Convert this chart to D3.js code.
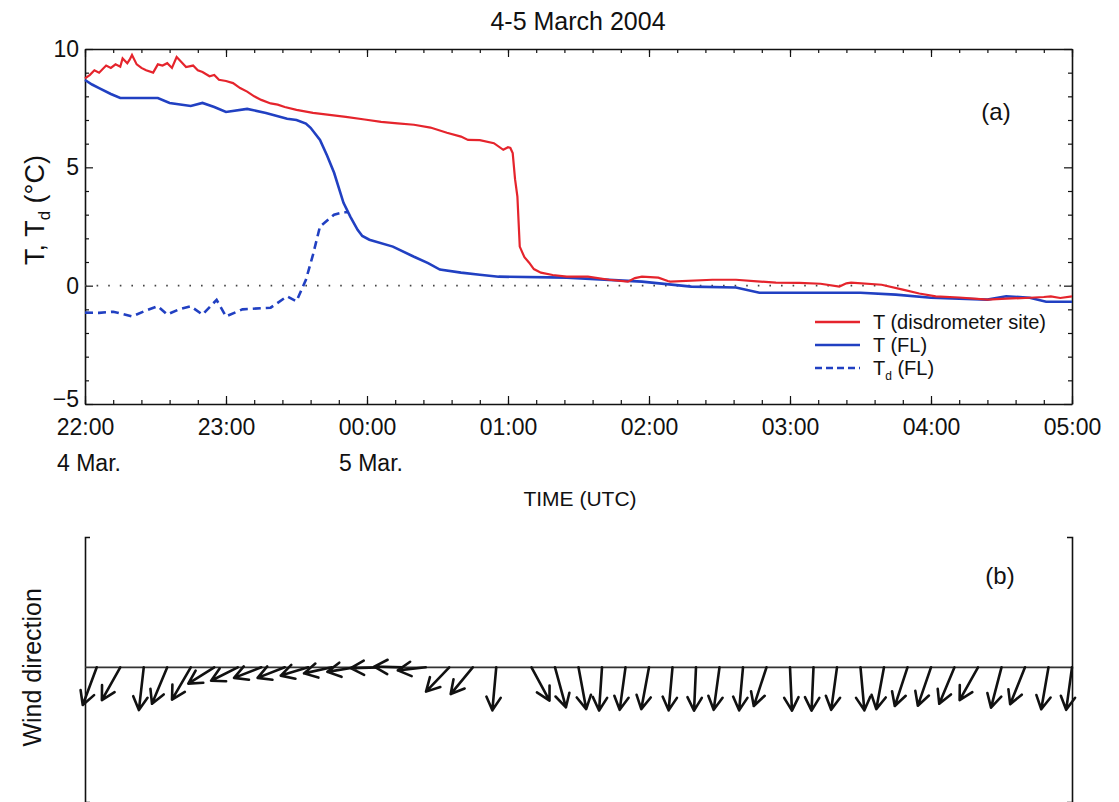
<!DOCTYPE html>
<html>
<head>
<meta charset="utf-8">
<script src="https://cdn.jsdelivr.net/npm/d3@7"></script>
<style>
  body { margin: 0; background: #fff; }
  svg { display: block; font-family: "Liberation Sans", Arial, Helvetica, sans-serif; }
</style>
</head>
<body>
<div id="chart"></div>
<script>
// all times are minutes after 22:00 UTC, 4 March 2004
const redMinutes = [0,2,4,6,9,11,13,15,16,18,19,20,22,24,26,29,31,33,35,37,39,41,43,46,48,50,53,55,57,60,63,66,69,72,75,79,82,85,90,97,104,111,119,126,133,140,147,154,160,163,168,174,178,180,181,182,183,184,185,187,189,191,194,199,205,214,223,231,234,237,244,248,249,267,277,286,294,304,313,321,324,326,339,348,355,362,372,384,392,402,408,411,415,420];
const redTemp = [8.76,8.9,9.1,9.0,9.3,9.2,9.35,9.25,9.6,9.4,9.55,9.75,9.35,9.2,9.1,9.0,9.35,9.3,9.4,9.2,9.66,9.45,9.24,9.3,9.1,9.03,8.85,8.9,8.7,8.65,8.56,8.35,8.2,8.0,7.85,7.7,7.65,7.55,7.43,7.3,7.22,7.13,7.02,6.92,6.86,6.8,6.68,6.46,6.3,6.16,6.15,6.02,5.74,5.85,5.82,5.6,4.5,3.76,1.65,1.2,0.97,0.7,0.55,0.45,0.38,0.38,0.25,0.17,0.32,0.38,0.34,0.2,0.17,0.25,0.25,0.18,0.13,0.12,0.08,-0.04,0.1,0.13,0.04,-0.17,-0.33,-0.45,-0.5,-0.59,-0.55,-0.51,-0.48,-0.45,-0.52,-0.45];

const blueMinutes = [0,3,6,11,15,23,31,36,45,50,55,60,69,77,86,90,94,96,100,103,106,110,113,116,118,121,131,140,146,151,160,168,176,205,237,258,277,287,330,345,360,384,392,402,409,420];
const blueTemp = [8.69,8.5,8.35,8.1,7.93,7.93,7.93,7.72,7.59,7.72,7.55,7.34,7.47,7.3,7.05,7.0,6.85,6.67,6.16,5.5,4.77,3.5,2.9,2.36,2.1,1.94,1.65,1.22,0.95,0.68,0.55,0.46,0.38,0.34,0.17,-0.04,-0.08,-0.3,-0.3,-0.38,-0.51,-0.59,-0.45,-0.51,-0.68,-0.68];

const dewMinutes = [0,6,12,16,20,26,31,35,40,45,50,56,60,67,79,86,90,94,97,100,106,110,112];
const dewTemp = [-1.14,-1.15,-1.1,-1.2,-1.3,-1.05,-0.87,-1.22,-1.0,-0.87,-1.22,-0.6,-1.3,-1.0,-0.93,-0.45,-0.66,0.25,1.3,2.5,3.0,3.1,3.1];

// wind direction (degrees the wind comes from)
const windMinutes = [5,15,25,35,45,55,65,75,85,95,105,115,125,135,145,155,165,175,190,200,210,220,230,240,250,260,270,280,290,300,310,320,330,340,350,360,370,380,390,400,410,420];
const windDirection = [30,41,10,33,42,68,72,76,76,79,82,84,89,91,86,56,52,8,320,337,344,6,12,16,8,4,12,8,27,356,4,12,352,16,27,28,33,41,22,32,15,12];

const yMajorTicks = [-5, 0, 5, 10];
const dateLabelMinutes = [0, 120];
const dateLabelText = ["4 Mar.", "5 Mar."];

const W = 1119, H = 802;
const red = "#e5242c", blue = "#2140c2";

const start = new Date(2004, 2, 4, 22, 0);
const toDate = m => new Date(start.getTime() + m * 60000);

const svg = d3.select("#chart").append("svg")
    .attr("width", W)
    .attr("height", H);

// ---------- panel (a) ----------
const x = d3.scaleTime()
    .domain([start, toDate(420)])
    .range([85, 1072]);

const y = d3.scaleLinear()
    .domain([-5, 10])
    .range([404, 49]);

const fmt = d3.timeFormat("%H:%M");
const minorX = d3.timeMinute.every(12);
const yMinor = d3.range(-5, 11).filter(v => !yMajorTicks.includes(v));

function styleAxis(g, fontSize) {
    g.select(".domain").attr("stroke", "#111").attr("stroke-width", 1.6);
    g.selectAll(".tick line").attr("stroke", "#111").attr("stroke-width", 1.2);
    g.selectAll(".tick text").attr("fill", "#111").attr("font-size", fontSize);
    g.attr("font-family", null);
}

// bottom
svg.append("g")
    .attr("transform", `translate(0,${y(-5)})`)
    .call(d3.axisBottom(x).ticks(d3.timeHour.every(1)).tickFormat(fmt)
        .tickSize(-8).tickSizeOuter(0).tickPadding(15))
    .call(g => styleAxis(g, 23));
svg.append("g")
    .attr("transform", `translate(0,${y(-5)})`)
    .call(d3.axisBottom(x).ticks(minorX).tickFormat("").tickSize(-4).tickSizeOuter(0))
    .call(g => styleAxis(g, 0))
    .call(g => g.select(".domain").remove());

// top
svg.append("g")
    .attr("transform", `translate(0,${y(10)})`)
    .call(d3.axisTop(x).ticks(d3.timeHour.every(1)).tickFormat("").tickSize(-8).tickSizeOuter(0))
    .call(g => styleAxis(g, 0));
svg.append("g")
    .attr("transform", `translate(0,${y(10)})`)
    .call(d3.axisTop(x).ticks(minorX).tickFormat("").tickSize(-4).tickSizeOuter(0))
    .call(g => styleAxis(g, 0))
    .call(g => g.select(".domain").remove());

// left
svg.append("g")
    .attr("transform", `translate(${x.range()[0]},0)`)
    .call(d3.axisLeft(y).tickValues(yMajorTicks).tickSize(-8).tickSizeOuter(0).tickPadding(6))
    .call(g => styleAxis(g, 23))
    .call(g => g.selectAll(".tick text").filter(d => d === -5).attr("dy", "0.1em"));
svg.append("g")
    .attr("transform", `translate(${x.range()[0]},0)`)
    .call(d3.axisLeft(y).tickValues(yMinor).tickFormat("").tickSize(-4).tickSizeOuter(0))
    .call(g => styleAxis(g, 0))
    .call(g => g.select(".domain").remove());

// right
svg.append("g")
    .attr("transform", `translate(${x.range()[1]},0)`)
    .call(d3.axisRight(y).tickValues(yMajorTicks).tickFormat("").tickSize(-8).tickSizeOuter(0))
    .call(g => styleAxis(g, 0));
svg.append("g")
    .attr("transform", `translate(${x.range()[1]},0)`)
    .call(d3.axisRight(y).tickValues(yMinor).tickFormat("").tickSize(-4).tickSizeOuter(0))
    .call(g => styleAxis(g, 0))
    .call(g => g.select(".domain").remove());

// date labels under the hours
svg.append("g").selectAll("text")
    .data(dateLabelMinutes)
    .enter()
    .append("text")
    .attr("x", d => x(toDate(d)) - 28)
    .attr("y", 471)
    .attr("font-size", 23)
    .attr("fill", "#111")
    .text((d, i) => dateLabelText[i]);

// zero line
svg.append("line")
    .attr("x1", x.range()[0]).attr("x2", x.range()[1])
    .attr("y1", y(0)).attr("y2", y(0))
    .attr("stroke", "#444")
    .attr("stroke-width", 1.6)
    .attr("stroke-dasharray", "1.6,10");

const line = d3.line()
    .x(d => x(toDate(d[0])))
    .y(d => y(d[1]));

svg.append("path")
    .datum(d3.zip(dewMinutes, dewTemp))
    .attr("fill", "none")
    .attr("stroke", blue)
    .attr("stroke-width", 2.6)
    .attr("stroke-dasharray", "8,5")
    .attr("d", line);

svg.append("path")
    .datum(d3.zip(blueMinutes, blueTemp))
    .attr("fill", "none")
    .attr("stroke", blue)
    .attr("stroke-width", 2.6)
    .attr("d", line);

svg.append("path")
    .datum(d3.zip(redMinutes, redTemp))
    .attr("fill", "none")
    .attr("stroke", red)
    .attr("stroke-width", 2.2)
    .attr("d", line);

// legend
const legendItems = [
    { main: "T", sub: "", rest: " (disdrometer site)", color: red, dash: null },
    { main: "T", sub: "", rest: " (FL)", color: blue, dash: null },
    { main: "T", sub: "d", rest: " (FL)", color: blue, dash: "7,4" }
];
const legend = svg.append("g").attr("transform", "translate(815,322)");
legendItems.forEach((item, i) => {
    const g = legend.append("g").attr("transform", `translate(0,${i * 23})`);
    g.append("line")
        .attr("x1", 0).attr("x2", 45)
        .attr("stroke", item.color)
        .attr("stroke-width", 2.4)
        .attr("stroke-dasharray", item.dash);
    const t = g.append("text")
        .attr("x", 58)
        .attr("y", 7)
        .attr("font-size", 20)
        .attr("fill", "#111");
    t.append("tspan").text(item.main);
    if (item.sub) {
        t.append("tspan").attr("font-size", 12).attr("dy", 5).text(item.sub);
        t.append("tspan").attr("dy", -5).text(item.rest);
    } else {
        t.append("tspan").text(item.rest);
    }
});

// titles and labels
svg.append("text")
    .attr("x", 578).attr("y", 30)
    .attr("text-anchor", "middle")
    .attr("font-size", 25)
    .attr("fill", "#111")
    .text("4-5 March 2004");

svg.append("text")
    .attr("x", 580).attr("y", 506)
    .attr("text-anchor", "middle")
    .attr("font-size", 21)
    .attr("fill", "#111")
    .text("TIME (UTC)");

const yLab = svg.append("text")
    .attr("transform", "translate(44,210) rotate(-90)")
    .attr("text-anchor", "middle")
    .attr("font-size", 27)
    .attr("fill", "#111");
yLab.append("tspan").text("T, T");
yLab.append("tspan").attr("font-size", 17).attr("dy", 6).text("d");
yLab.append("tspan").attr("dy", -6).text(" (°C)");

svg.append("text")
    .attr("x", 996).attr("y", 120)
    .attr("text-anchor", "middle")
    .attr("font-size", 24)
    .attr("fill", "#111")
    .text("(a)");

// ---------- panel (b) ----------
const yB = d3.scaleLinear()
    .domain([-3.1, 3.0])
    .range([802, 537]);
const uB = d3.scaleLinear()
    .domain([-1, 1])
    .range([-28, 28]);

svg.append("g")
    .attr("transform", `translate(${x.range()[0]},0)`)
    .call(d3.axisLeft(yB).tickValues([]).tickSizeOuter(-5))
    .call(g => styleAxis(g, 0));
svg.append("g")
    .attr("transform", `translate(${x.range()[1]},0)`)
    .call(d3.axisRight(yB).tickValues([]).tickSizeOuter(-5))
    .call(g => styleAxis(g, 0));

svg.append("line")
    .attr("x1", x.range()[0]).attr("x2", x.range()[1])
    .attr("y1", yB(0)).attr("y2", yB(0))
    .attr("stroke", "#333")
    .attr("stroke-width", 1.6);

const arrows = windMinutes.map((m, i) => {
    const th = windDirection[i] * Math.PI / 180;
    const x0 = x(toDate(m)), y0 = yB(0);
    const x1 = x0 + uB(-Math.sin(th)), y1 = yB(-Math.cos(th));
    return { x0, y0, x1, y1 };
});

const arrowG = svg.append("g")
    .attr("stroke", "#111")
    .attr("stroke-width", 2.6)
    .attr("fill", "none")
    .attr("stroke-linecap", "round")
    .attr("stroke-linejoin", "round");

arrowG.selectAll("path")
    .data(arrows)
    .enter()
    .append("path")
    .attr("d", d => {
        const a = Math.atan2(d.y1 - d.y0, d.x1 - d.x0);
        const hl = 15, spread = 0.5;
        const b1x = d.x1 - hl * Math.cos(a - spread), b1y = d.y1 - hl * Math.sin(a - spread);
        const b2x = d.x1 - hl * Math.cos(a + spread), b2y = d.y1 - hl * Math.sin(a + spread);
        return `M${d.x0},${d.y0}L${d.x1},${d.y1}M${b1x},${b1y}L${d.x1},${d.y1}L${b2x},${b2y}`;
    });

svg.append("text")
    .attr("x", 1000).attr("y", 584)
    .attr("text-anchor", "middle")
    .attr("font-size", 24)
    .attr("fill", "#111")
    .text("(b)");

svg.append("text")
    .attr("transform", `translate(41,${yB(0)}) rotate(-90)`)
    .attr("text-anchor", "middle")
    .attr("font-size", 25)
    .attr("fill", "#111")
    .text("Wind direction");
</script>
</body>
</html>
